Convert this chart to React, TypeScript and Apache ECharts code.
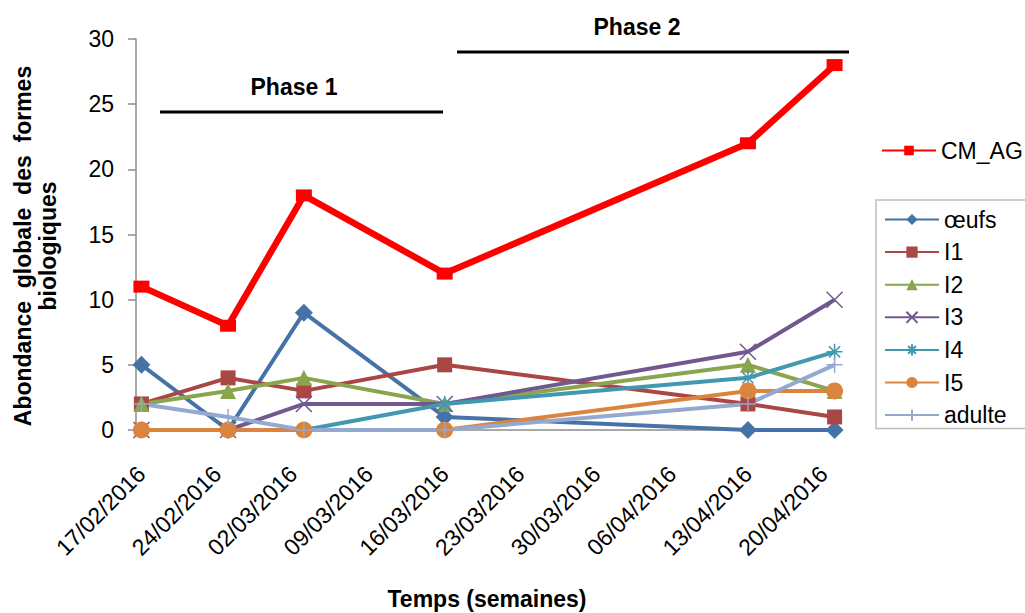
import React, { useEffect, useRef } from 'react';
import * as echarts from 'echarts';

// Sampling dates and counts per biological form
const sampleDates = ['17/02/2016', '25/02/2016', '03/03/2016', '16/03/2016', '13/04/2016', '21/04/2016'];
const cmAg = [11, 8, 18, 12, 22, 28];
const oeufs = [5, 0, 9, 1, 0, 0];
const i1 = [2, 4, 3, 5, 2, 1];
const i2 = [2, 3, 4, 2, 5, 3];
const i3 = [0, 0, 2, 2, 6, 10];
const i4 = [0, 0, 0, 2, 4, 6];
const i5 = [0, 0, 0, 0, 3, 3];
const adulte = [2, 1, 0, 0, 2, 5];

// Weekly tick labels shown on the date axis
const weekLabels = [
  '17/02/2016', '24/02/2016', '02/03/2016', '09/03/2016', '16/03/2016',
  '23/03/2016', '30/03/2016', '06/04/2016', '13/04/2016', '20/04/2016',
];

// One category per day, 17/02/2016 .. 21/04/2016
const FIRST_DAY = Date.UTC(2016, 1, 17);
const DAY_COUNT = 65;
const pad2 = (n: number) => String(n).padStart(2, '0');
const fmtDay = (t: number) => {
  const d = new Date(t);
  return `${pad2(d.getUTCDate())}/${pad2(d.getUTCMonth() + 1)}/${d.getUTCFullYear()}`;
};
const days = Array.from({ length: DAY_COUNT }, (_, i) => fmtDay(FIRST_DAY + i * 86400000));

const FONT = 'Liberation Sans, Arial, sans-serif';
const FS = 23;

const pair = (vals: number[]) => sampleDates.map((d, i) => [d, vals[i]]);

const X_SYM = 'path://M0,0L10,10M10,0L0,10';
const STAR_SYM = 'path://M5,0L5,10M0,5L10,5M1.5,1.5L8.5,8.5M8.5,1.5L1.5,8.5';
const PLUS_SYM = 'path://M5,0L5,10M0,5L10,5';

const forms = [
  { name: 'œufs', data: oeufs, color: '#4572A7', symbol: 'diamond', size: 18, stroke: false },
  { name: 'I1', data: i1, color: '#AA4643', symbol: 'rect', size: 15, stroke: false },
  { name: 'I2', data: i2, color: '#89A54E', symbol: 'triangle', size: 16, stroke: false },
  { name: 'I3', data: i3, color: '#71588F', symbol: X_SYM, size: 16, stroke: true },
  { name: 'I4', data: i4, color: '#4198AF', symbol: STAR_SYM, size: 16, stroke: true },
  { name: 'I5', data: i5, color: '#DB843D', symbol: 'circle', size: 17, stroke: false },
  { name: 'adulte', data: adulte, color: '#93A9CF', symbol: PLUS_SYM, size: 16, stroke: true },
];

export default function App() {
  const ref = useRef<HTMLDivElement>(null);

  useEffect(() => {
    if (!ref.current) return;
    const chart = echarts.init(ref.current, undefined, { renderer: 'svg' });
    const isWeek = (_i: number, v: string) => weekLabels.includes(v);

    chart.setOption({
      animation: false,
      backgroundColor: '#ffffff',
      textStyle: { fontFamily: FONT, color: '#000' },
      grid: { left: 136, right: 185, top: 39, bottom: 183 },
      xAxis: {
        type: 'category',
        data: days,
        boundaryGap: true,
        axisLine: { lineStyle: { color: '#8C8C8C', width: 1.5 } },
        axisTick: { interval: isWeek, length: 8, lineStyle: { color: '#8C8C8C', width: 1.5 } },
        axisLabel: {
          interval: isWeek,
          rotate: 45,
          margin: 40,
          fontSize: FS,
          color: '#000',
          fontFamily: FONT,
        },
        splitLine: { show: false },
      },
      yAxis: {
        type: 'value',
        min: 0,
        max: 30,
        interval: 5,
        axisLine: { show: true, lineStyle: { color: '#8C8C8C', width: 1.5 } },
        axisTick: { show: true, length: 8, lineStyle: { color: '#8C8C8C', width: 1.5 } },
        axisLabel: { fontSize: FS, color: '#000', margin: 22, fontFamily: FONT },
        splitLine: { show: false },
      },
      legend: [
        {
          data: ['CM_AG'],
          left: 876,
          top: 134,
          orient: 'vertical',
          itemWidth: 54,
          itemHeight: 12,
          textStyle: { fontSize: FS, color: '#000', fontFamily: FONT },
        },
        {
          data: forms.map((f) => f.name),
          left: 876,
          top: 200,
          orient: 'vertical',
          itemWidth: 54,
          itemHeight: 14,
          itemGap: 9.6,
          padding: [8, 40, 2, 8],
          borderColor: '#BFBFBF',
          borderWidth: 1.5,
          textStyle: { fontSize: FS, color: '#000', fontFamily: FONT },
        },
      ],
      series: [
        ...forms.map((f) => ({
          name: f.name,
          type: 'line',
          data: pair(f.data),
          symbol: f.symbol,
          symbolSize: f.size,
          showSymbol: true,
          showAllSymbol: true,
          lineStyle: { color: f.color, width: 4 },
          itemStyle: f.stroke
            ? { color: f.color, borderColor: f.color, borderWidth: 1.5 }
            : { color: f.color },
          emphasis: { disabled: true },
        })),
        {
          name: 'CM_AG',
          type: 'line',
          data: pair(cmAg),
          symbol: 'rect',
          symbolSize: [16, 12],
          showAllSymbol: true,
          lineStyle: { color: '#FF0000', width: 6.5 },
          itemStyle: { color: '#FF0000' },
          emphasis: { disabled: true },
          z: 3,
        },
      ],
      graphic: [
        { type: 'line', shape: { x1: 160, y1: 112, x2: 443, y2: 112 }, style: { stroke: '#000', lineWidth: 3 } },
        {
          type: 'text', x: 294, y: 87,
          style: { text: 'Phase 1', font: `bold ${FS}px ${FONT}`, fill: '#000', align: 'center', verticalAlign: 'middle' },
        },
        { type: 'line', shape: { x1: 457, y1: 52, x2: 849, y2: 52 }, style: { stroke: '#000', lineWidth: 3 } },
        {
          type: 'text', x: 637, y: 27,
          style: { text: 'Phase 2', font: `bold ${FS}px ${FONT}`, fill: '#000', align: 'center', verticalAlign: 'middle' },
        },
        {
          type: 'text', x: 487, y: 599,
          style: { text: 'Temps (semaines)', font: `bold ${FS}px ${FONT}`, fill: '#000', align: 'center', verticalAlign: 'middle' },
        },
        {
          type: 'text', x: 35, y: 246, rotation: Math.PI / 2,
          style: {
            text: 'Abondance  globale  des  formes\nbiologiques',
            font: `bold ${FS}px ${FONT}`, lineHeight: 25, fill: '#000', align: 'center', verticalAlign: 'middle',
          },
        },
      ],
    });
    return () => chart.dispose();
  }, []);

  return (
    <div
      ref={ref}
      style={{ position: 'fixed', left: 0, top: 0, width: 1025, height: 613, background: '#fff' }}
    />
  );
}
